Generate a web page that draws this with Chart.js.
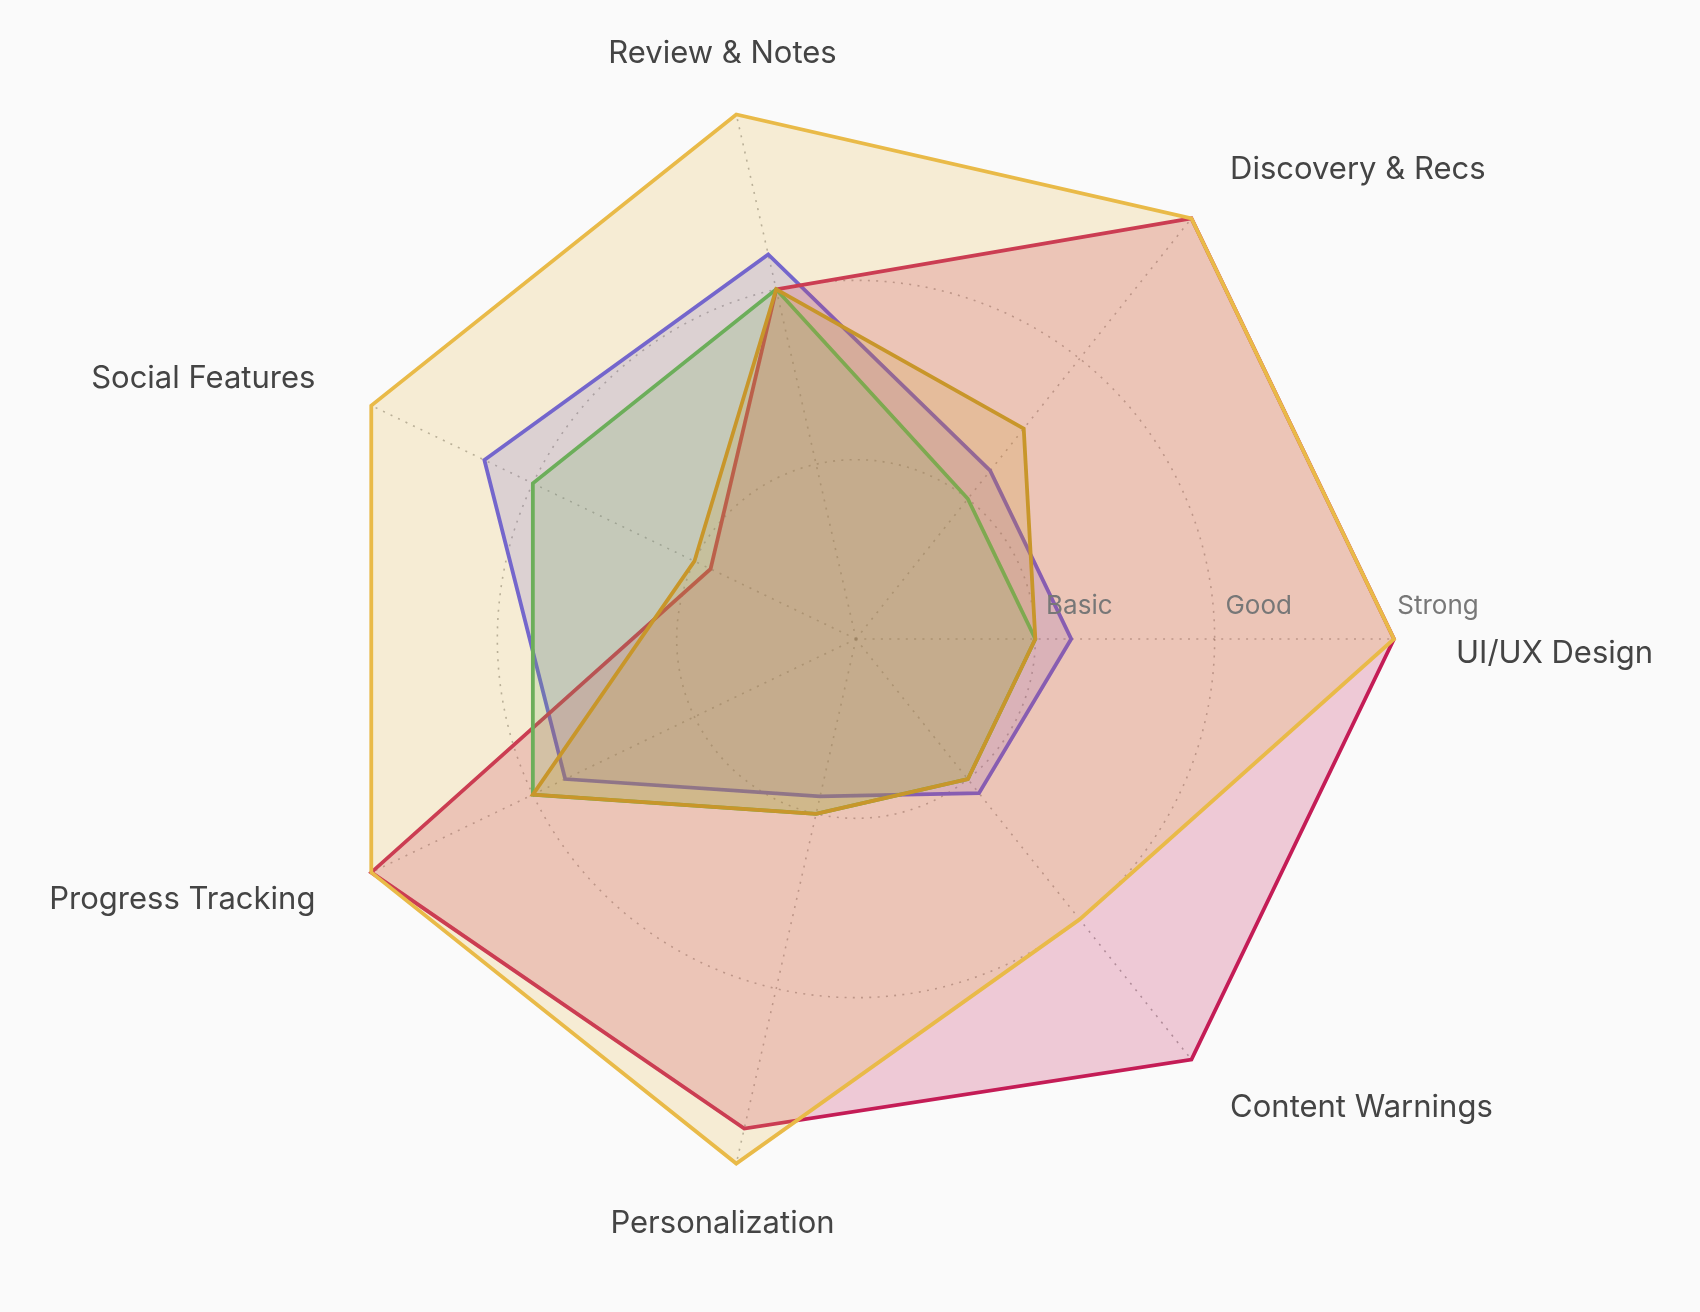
<!DOCTYPE html>
<html>
<head>
<meta charset="utf-8">
<script src="https://cdn.jsdelivr.net/npm/chart.js@4"></script>
<style>
  html, body { margin: 0; padding: 0; background: #fafafa; }
  #wrap { width: 1700px; height: 1312px; position: relative; }
</style>
</head>
<body>
<div id="wrap"><canvas id="chartRadar"></canvas></div>
<script>
/* Categories in Chart.js drawing order (clockwise from the right-hand spoke) */
const categories = ['UI/UX Design', 'Content Warnings', 'Personalization', 'Progress Tracking',
                    'Social Features', 'Review & Notes', 'Discovery & Recs'];
const tickValues = [1, 2, 3];
const tickLabels = ['Basic', 'Good', 'Strong'];

const appYellow  = [3, 2, 3, 3, 3, 3, 3];
const appCrimson = [3, 3, 2.8, 3, 0.9, 2, 3];
const appPurple  = [1.2, 1.1, 0.9, 1.8, 2.3, 2.2, 1.2];
const appGreen   = [1, 1, 1, 2, 2, 2, 1];
const appGold    = [1, 1, 1, 2, 1, 2, 1.5];

const GRID = 'rgba(110,110,110,0.55)';

/* Tick labels along the first spoke + category labels around the rim */
const radarText = {
  id: 'radarText',
  afterDatasetsDraw(chart) {
    const r = chart.scales.r;
    const ctx = chart.ctx;
    ctx.save();
    ctx.textBaseline = 'middle';

    ctx.font = '26px Inter';
    ctx.fillStyle = '#777';
    ctx.textAlign = 'center';
    tickValues.forEach((v, i) => {
      ctx.fillText(tickLabels[i], r.xCenter + r.getDistanceFromCenterForValue(v) + 44, r.yCenter - 33);
    });

    ctx.font = '31px Inter';
    ctx.fillStyle = '#444';
    const dist = r.drawingArea + 62;
    categories.forEach((label, i) => {
      const p = r.getPointPosition(i, dist);
      const cos = (p.x - r.xCenter) / dist;
      ctx.textAlign = Math.abs(cos) < 0.3 ? 'center' : (cos > 0 ? 'left' : 'right');
      ctx.fillText(label, p.x, p.y + (i === 0 ? 15 : 0));
    });
    ctx.restore();
  },
};

const ds = (label, data, color, fill, order) => ({
  label, data, order,
  borderColor: color,
  backgroundColor: fill,
  borderWidth: 3.8,
  pointRadius: 0,
  pointHoverRadius: 0,
  fill: true,
});

new Chart(document.getElementById('chartRadar'), {
  type: 'radar',
  data: {
    labels: categories,
    datasets: [
      ds('App A', appYellow,  '#e9ba48', 'rgba(233,185,73,.21)', 3),
      ds('App B', appCrimson, '#c41c56', 'rgba(196,28,86,.22)', 4),
      ds('App C', appPurple,  '#5651f0', 'rgba(86,81,240,.2)', 5),
      ds('App D', appGreen,   '#6cae5a', 'rgba(108,174,90,.2)', 2),
      ds('App E', appGold,    '#c8962a', 'rgba(200,150,42,.2)', 1),
    ],
  },
  options: {
    responsive: true,
    maintainAspectRatio: false,
    animation: false,
    layout: { padding: { left: 12, right: 0, top: 101, bottom: 135 } },
    plugins: {
      legend: { display: false },
      tooltip: { enabled: false },
    },
    scales: {
      r: {
        min: 0,
        max: 3,
        startAngle: 90,
        ticks: { display: false, stepSize: 1 },
        pointLabels: { display: false },
        grid: {
          circular: true,
          color: GRID,
          lineWidth: c => (c.tick && c.tick.value === 3 ? 0 : 1.6),
        },
        border: { dash: [2, 6.3] },
        angleLines: { color: GRID, lineWidth: 1.6, borderDash: [2, 6.3] },
      },
    },
  },
  plugins: [radarText],
});
</script>
</body>
</html>
